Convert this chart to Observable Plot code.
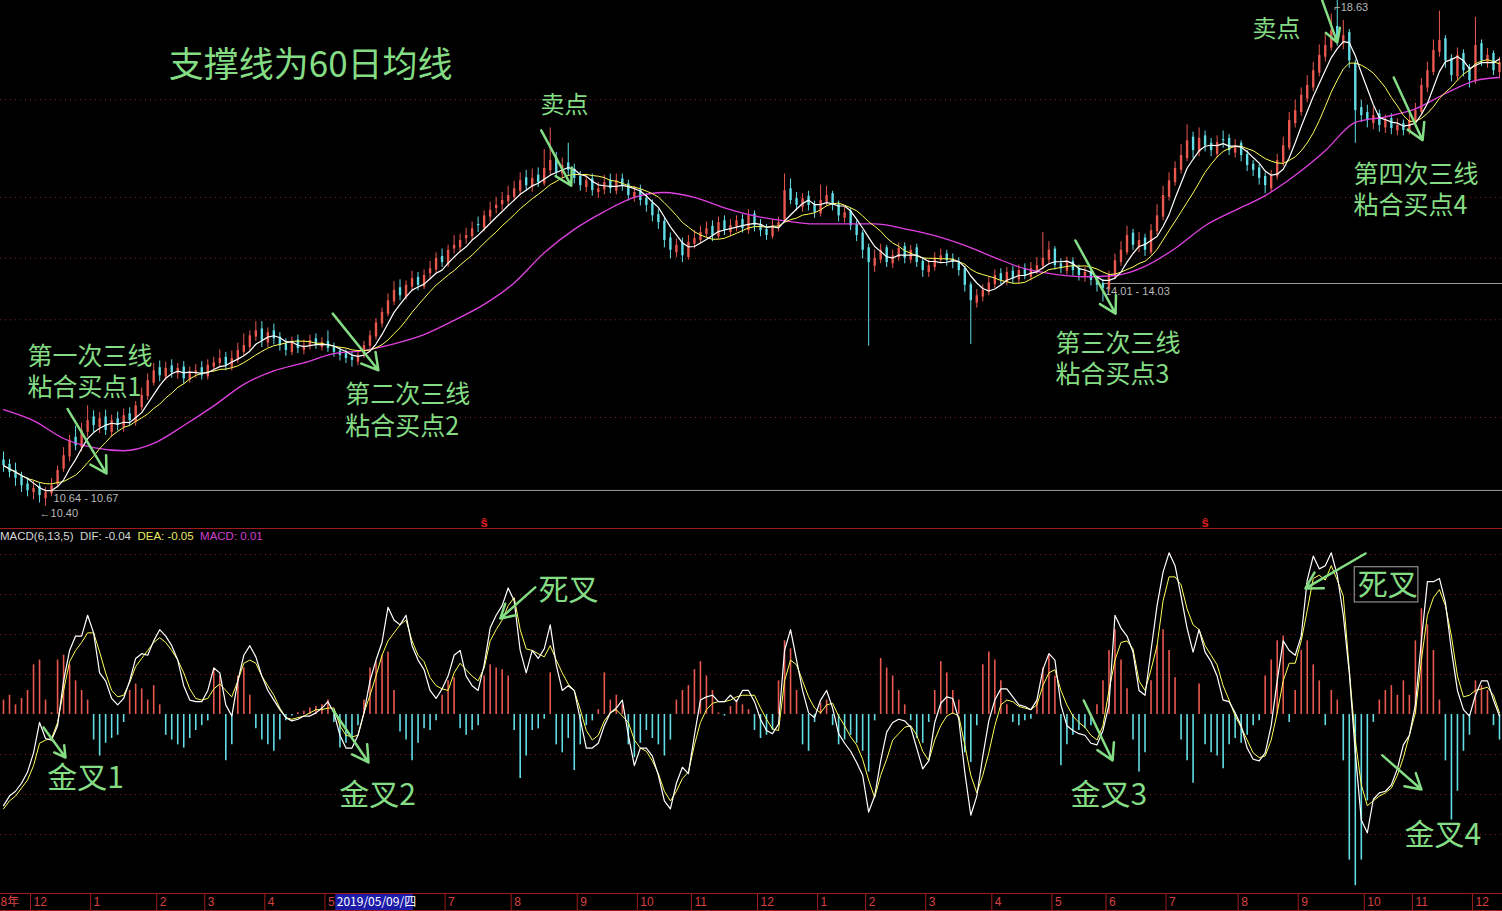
<!DOCTYPE html>
<html><head><meta charset="utf-8">
<script src="https://cdn.jsdelivr.net/npm/d3@7"></script>
<script src="https://cdn.jsdelivr.net/npm/@observablehq/plot@0.6"></script>
<style>
html,body{margin:0;padding:0;background:#000;overflow:hidden;}
#wrap{position:relative;width:1502px;height:911px;background:#000;overflow:hidden;}
#top{position:absolute;left:0;top:0;}
#mid{position:absolute;left:0;top:528px;border-top:1px solid #a31c1c;width:1502px;}
#axis{position:absolute;left:0;top:893px;border-top:1px solid #a31c1c;border-bottom:1px solid #a31c1c;width:1502px;}
#lbl{position:absolute;left:0px;top:530px;font:11.5px "Liberation Sans",Arial,sans-serif;white-space:pre;}
svg{display:block}
</style></head><body>
<div id="wrap">
<div id="top"></div>
<div id="mid"></div>
<div id="axis"></div>
<div id="lbl"><span style="color:#d8d8d8">MACD(6,13,5)  DIF: -0.04  </span><span style="color:#e8e860">DEA: -0.05  </span><span style="color:#d040d0">MACD: 0.01</span></div>
</div>
<script>
// ---------- candles (daily, left to right) ----------
const open = [
11.15,11.08,10.98,10.88,10.76,10.62,10.72,10.52,10.60,10.75,
11.00,11.20,11.52,11.35,11.60,11.85,11.68,11.85,11.60,11.82,
11.68,11.90,11.76,12.00,12.18,12.40,12.65,12.50,12.68,12.55,
12.66,12.45,12.55,12.65,12.50,12.66,12.72,12.82,12.66,12.78,
12.90,12.98,13.15,13.28,13.05,13.25,13.15,13.04,12.90,13.10,
12.93,13.00,13.12,12.98,13.08,12.98,12.92,12.88,12.82,12.74,
12.86,13.00,13.15,13.36,13.52,13.72,13.95,13.80,13.96,14.12,
13.96,14.18,14.24,14.46,14.32,14.58,14.60,14.75,14.78,14.98,
14.92,15.10,15.24,15.30,15.35,15.42,15.52,15.74,15.58,15.78,
15.64,15.85,16.06,15.80,15.98,15.88,15.76,15.58,15.72,15.50,
15.54,15.70,15.52,15.72,15.64,15.42,15.54,15.40,15.32,15.14,
15.03,14.76,14.52,14.68,14.44,14.66,14.72,14.82,14.95,14.78,
15.04,14.85,14.94,15.06,14.88,15.15,14.98,14.90,14.78,14.94,
15.05,15.56,15.40,15.26,15.44,15.30,15.15,15.34,15.48,15.30,
15.08,15.20,14.98,14.84,14.60,14.30,14.40,14.60,14.34,14.44,
14.62,14.40,14.60,14.38,14.20,14.28,14.40,14.50,14.42,14.38,
14.26,14.00,13.70,13.80,13.88,14.00,14.18,14.04,14.22,14.08,
14.26,14.12,14.22,14.30,14.40,14.58,14.34,14.22,14.38,14.26,
14.12,14.22,14.10,14.02,13.92,14.12,14.36,14.52,14.84,14.60,
14.76,14.52,14.86,15.10,15.42,15.66,15.86,16.05,16.40,16.15,
16.42,16.30,16.12,16.36,16.38,16.14,16.30,16.12,15.96,15.90,
15.76,15.56,15.75,15.98,16.22,16.62,16.80,17.02,17.20,17.44,
17.70,17.85,18.20,17.92,18.10,17.60,16.88,16.80,16.62,16.78,
16.55,16.70,16.50,16.62,16.48,16.64,16.80,17.20,17.45,17.78,
18.00,17.68,17.38,17.76,17.52,17.30,17.92,17.60,17.76,17.45];
const close = [
11.06,10.95,10.85,10.73,10.65,10.69,10.57,10.62,10.73,10.98,
11.22,11.47,11.38,11.63,11.79,11.71,11.82,11.63,11.79,11.71,
11.87,11.79,12.03,12.20,12.44,12.60,12.52,12.64,12.57,12.64,
12.47,12.57,12.60,12.52,12.69,12.73,12.80,12.69,12.80,12.93,
13.01,13.17,13.25,13.09,13.22,13.12,13.01,12.93,13.06,12.96,
13.01,13.09,13.01,13.06,12.96,12.90,12.85,12.80,12.77,12.85,
13.01,13.17,13.38,13.55,13.74,13.91,13.82,13.99,14.10,13.99,
14.15,14.26,14.43,14.36,14.56,14.64,14.72,14.80,14.91,14.96,
15.12,15.21,15.29,15.37,15.45,15.56,15.69,15.61,15.73,15.66,
15.89,16.02,15.82,15.94,15.86,15.73,15.61,15.69,15.53,15.56,
15.66,15.56,15.69,15.61,15.45,15.50,15.37,15.29,15.12,15.01,
14.72,14.56,14.64,14.47,14.69,14.75,14.85,14.91,14.80,15.01,
14.88,14.96,15.04,14.91,15.12,14.96,14.88,14.80,14.96,15.01,
15.53,15.37,15.29,15.40,15.29,15.17,15.37,15.45,15.29,15.12,
15.17,14.96,14.80,14.56,14.36,14.43,14.56,14.36,14.47,14.59,
14.43,14.56,14.36,14.23,14.31,14.43,14.47,14.39,14.36,14.23,
13.99,13.74,13.82,13.91,14.03,14.15,14.07,14.20,14.10,14.23,
14.15,14.26,14.31,14.43,14.56,14.31,14.26,14.36,14.23,14.15,
14.20,14.07,13.99,13.94,14.15,14.39,14.56,14.80,14.64,14.72,
14.56,14.88,15.12,15.45,15.69,15.89,16.10,16.34,16.18,16.38,
16.26,16.18,16.31,16.34,16.18,16.26,16.10,15.94,15.86,15.73,
15.61,15.77,16.02,16.26,16.67,16.83,17.08,17.24,17.48,17.73,
17.89,18.13,17.97,18.05,17.64,16.83,16.75,16.67,16.75,16.59,
16.67,16.54,16.59,16.51,16.67,16.83,17.24,17.48,17.81,17.97,
17.64,17.40,17.73,17.48,17.32,17.89,17.64,17.73,17.48,17.61];
const high = [
11.28,11.16,11.10,10.95,10.86,10.80,10.78,10.70,10.85,11.05,
11.35,11.55,11.70,11.75,12.03,11.95,11.92,11.96,11.88,11.93,
11.98,12.00,12.10,12.32,12.55,12.72,12.76,12.74,12.78,12.72,
12.75,12.66,12.70,12.75,12.78,12.82,12.94,12.90,12.92,13.05,
13.20,13.25,13.40,13.40,13.30,13.36,13.22,13.12,13.15,13.18,
13.10,13.18,13.20,13.14,13.25,13.05,12.98,12.94,12.90,12.92,
13.08,13.25,13.45,13.62,13.85,14.05,14.08,14.06,14.22,14.20,
14.24,14.38,14.52,14.58,14.64,14.80,14.82,14.92,15.02,15.10,
15.20,15.34,15.42,15.50,15.60,15.68,15.82,15.86,15.88,15.90,
16.20,16.55,16.15,16.06,16.30,15.96,15.84,15.78,15.80,15.66,
15.78,15.80,15.80,15.80,15.70,15.60,15.62,15.48,15.38,15.22,
15.08,14.84,14.74,14.76,14.80,14.88,14.95,15.02,15.04,15.10,
15.12,15.06,15.12,15.14,15.22,15.20,15.06,14.98,15.05,15.10,
15.80,15.72,15.50,15.48,15.52,15.36,15.62,15.60,15.52,15.36,
15.26,15.24,15.04,14.88,14.66,14.56,14.66,14.64,14.56,14.68,
14.68,14.64,14.66,14.44,14.40,14.52,14.58,14.56,14.50,14.44,
14.30,14.04,13.92,14.00,14.12,14.24,14.26,14.28,14.30,14.32,
14.34,14.36,14.44,14.85,14.70,14.62,14.42,14.45,14.44,14.32,
14.28,14.26,14.14,14.08,14.22,14.50,14.70,14.95,14.90,14.85,
14.82,14.98,15.30,15.60,15.82,16.00,16.28,16.60,16.48,16.55,
16.50,16.38,16.42,16.50,16.44,16.36,16.34,16.18,16.02,15.95,
15.82,15.86,16.12,16.40,16.80,17.00,17.20,17.40,17.62,17.90,
18.10,18.40,18.63,18.30,18.15,17.65,17.00,16.92,16.88,16.84,
16.76,16.78,16.70,16.68,16.78,16.95,17.35,17.62,17.98,18.45,
18.05,17.74,17.85,17.82,17.58,18.35,17.98,17.84,17.80,17.70];
const low = [
10.95,10.86,10.72,10.62,10.55,10.50,10.45,10.40,10.55,10.70,
10.95,11.12,11.30,11.28,11.52,11.60,11.58,11.55,11.52,11.62,
11.60,11.70,11.70,11.95,12.12,12.35,12.42,12.44,12.48,12.46,
12.38,12.40,12.48,12.45,12.45,12.58,12.66,12.60,12.60,12.72,
12.84,12.92,13.08,12.98,12.98,13.02,12.92,12.84,12.85,12.88,
12.86,12.94,12.95,12.92,12.90,12.82,12.76,12.72,12.66,12.68,
12.80,12.95,13.10,13.30,13.48,13.66,13.74,13.75,13.90,13.90,
13.92,14.10,14.18,14.28,14.28,14.50,14.52,14.66,14.72,14.85,
14.86,15.02,15.15,15.20,15.28,15.36,15.45,15.52,15.50,15.58,
15.60,15.78,15.74,15.72,15.76,15.64,15.52,15.50,15.44,15.40,
15.46,15.48,15.46,15.52,15.36,15.34,15.28,15.18,15.02,14.90,
14.60,14.42,14.44,14.36,14.40,14.58,14.66,14.76,14.70,14.74,
14.80,14.78,14.86,14.84,14.82,14.86,14.78,14.72,14.74,14.86,
15.00,15.30,15.20,15.18,15.20,15.08,15.10,15.28,15.20,15.02,
15.00,14.88,14.70,14.42,13.00,14.20,14.34,14.28,14.26,14.38,
14.34,14.34,14.28,14.12,14.12,14.22,14.34,14.30,14.26,14.14,
13.88,13.03,13.62,13.72,13.82,13.94,14.00,13.98,14.02,14.02,
14.08,14.06,14.16,14.24,14.34,14.24,14.18,14.16,14.14,14.06,
14.04,13.98,13.88,13.72,13.88,14.08,14.30,14.48,14.56,14.52,
14.46,14.48,14.80,15.04,15.36,15.60,15.80,16.00,16.05,16.08,
16.16,16.08,16.06,16.22,16.10,16.06,16.00,15.84,15.76,15.62,
15.48,15.50,15.70,15.92,16.18,16.55,16.74,16.96,17.14,17.38,
17.62,17.80,17.88,17.82,17.52,16.30,16.64,16.55,16.52,16.48,
16.46,16.44,16.42,16.42,16.44,16.58,16.75,17.12,17.40,17.70,
17.52,17.30,17.32,17.38,17.20,17.26,17.55,17.52,17.40,17.36];

// 60-day moving average, read at every 5th candle
const ma60At = [0,5,10,15,20,25,30,35,40,45,50,55,60,65,70,75,80,85,90,95,100,105,110,115,120,125,130,135,140,145,150,155,160,165,170,175,180,185,190,195,200,205,210,215,220,225,230,235,240,245,249];
const ma60 = [11.97,11.79,11.50,11.35,11.30,11.42,11.71,12.03,12.38,12.60,12.73,12.88,12.93,13.04,13.19,13.42,13.68,14.03,14.52,14.90,15.19,15.42,15.50,15.42,15.25,15.12,15.04,14.99,14.99,14.99,14.91,14.80,14.64,14.44,14.26,14.17,14.13,14.15,14.30,14.59,14.96,15.21,15.45,15.78,16.18,16.64,16.73,16.86,17.11,17.32,17.37];

// ---------- MACD(6,13,5) ----------
const dif = [
-0.57,-0.51,-0.48,-0.43,-0.36,-0.24,-0.05,-0.15,-0.16,-0.07,
0.21,0.40,0.49,0.49,0.62,0.51,0.26,0.21,0.10,0.06,
0.10,0.21,0.35,0.38,0.37,0.46,0.53,0.49,0.43,0.34,
0.18,0.09,0.08,0.08,0.15,0.29,0.26,0.06,-0.01,0.21,
0.37,0.43,0.36,0.24,0.15,0.09,0.03,-0.02,-0.04,-0.03,
-0.01,-0.01,0.01,0.04,0.08,0.01,-0.13,-0.21,-0.21,-0.13,
0.01,0.21,0.34,0.45,0.67,0.59,0.56,0.62,0.43,0.34,
0.28,0.15,0.10,0.16,0.24,0.37,0.40,0.24,0.18,0.15,
0.31,0.54,0.62,0.68,0.79,0.71,0.40,0.26,0.40,0.35,
0.41,0.56,0.31,0.15,0.18,0.15,-0.03,-0.21,-0.21,-0.18,
-0.07,0.01,0.04,0.09,-0.13,-0.32,-0.21,-0.21,-0.26,-0.38,
-0.54,-0.59,-0.43,-0.33,-0.37,-0.13,0.09,0.11,0.12,0.08,
0.08,0.12,0.08,0.15,0.15,0.08,-0.03,-0.10,-0.12,-0.06,
0.40,0.53,0.34,0.15,0.01,-0.02,0.09,0.15,0.04,-0.12,
-0.18,-0.23,-0.30,-0.38,-0.61,-0.51,-0.29,-0.11,-0.05,-0.03,
-0.04,-0.08,-0.21,-0.34,-0.29,-0.05,0.07,0.11,0.10,-0.03,
-0.36,-0.63,-0.51,-0.26,-0.04,0.09,0.16,0.16,0.11,0.06,
0.05,0.03,0.09,0.28,0.38,0.34,0.06,-0.07,-0.10,-0.12,
-0.13,-0.18,-0.19,-0.10,0.06,0.62,0.54,0.49,0.39,0.15,
0.12,0.40,0.68,0.89,1.01,0.93,0.74,0.54,0.39,0.53,
0.39,0.33,0.24,0.09,0.08,0.01,-0.07,-0.21,-0.28,-0.29,
-0.24,-0.07,0.21,0.46,0.40,0.37,0.49,0.84,0.99,0.91,
0.93,1.01,0.87,0.62,0.26,-0.24,-0.66,-0.74,-0.53,-0.49,
-0.48,-0.44,-0.34,-0.19,-0.13,0.06,0.46,0.83,0.83,0.85,
0.70,0.40,0.15,0.03,-0.01,0.12,0.21,0.21,0.09,-0.01];
const dea = [
-0.59,-0.54,-0.51,-0.46,-0.41,-0.32,-0.18,-0.16,-0.15,-0.05,
0.15,0.33,0.40,0.45,0.51,0.51,0.39,0.26,0.15,0.11,
0.12,0.20,0.30,0.35,0.40,0.45,0.48,0.45,0.40,0.34,
0.26,0.16,0.10,0.09,0.10,0.16,0.19,0.15,0.11,0.21,
0.32,0.34,0.32,0.24,0.18,0.12,0.04,-0.02,-0.03,-0.02,
-0.01,0.01,0.03,0.03,0.04,0.04,-0.07,-0.13,-0.14,-0.13,
0.01,0.12,0.24,0.37,0.46,0.51,0.56,0.59,0.46,0.37,
0.33,0.23,0.18,0.16,0.15,0.26,0.32,0.28,0.24,0.21,
0.29,0.46,0.53,0.59,0.68,0.73,0.53,0.41,0.40,0.38,
0.36,0.43,0.34,0.26,0.19,0.15,0.03,-0.10,-0.16,-0.13,
-0.04,0.01,0.03,-0.01,-0.05,-0.16,-0.21,-0.23,-0.29,-0.37,
-0.48,-0.54,-0.48,-0.40,-0.36,-0.19,-0.05,0.03,0.07,0.08,
0.08,0.09,0.11,0.12,0.12,0.12,0.04,-0.03,-0.09,-0.10,
0.21,0.34,0.31,0.21,0.11,0.04,0.01,0.06,0.07,-0.01,
-0.07,-0.14,-0.19,-0.28,-0.41,-0.52,-0.38,-0.28,-0.16,-0.12,
-0.08,-0.07,-0.13,-0.23,-0.29,-0.16,-0.07,-0.01,0.01,-0.01,
-0.19,-0.38,-0.49,-0.38,-0.24,-0.07,0.06,0.09,0.08,0.05,
0.04,0.03,0.06,0.18,0.26,0.28,0.15,0.06,-0.01,-0.05,
-0.08,-0.13,-0.16,-0.07,0.15,0.34,0.45,0.46,0.41,0.21,
0.15,0.28,0.43,0.71,0.86,0.86,0.81,0.66,0.56,0.53,
0.43,0.37,0.31,0.18,0.09,-0.01,-0.08,-0.16,-0.24,-0.27,
-0.26,-0.16,0.01,0.21,0.32,0.32,0.46,0.65,0.85,0.87,
0.84,0.93,0.84,0.74,0.28,-0.16,-0.44,-0.57,-0.54,-0.51,
-0.49,-0.46,-0.38,-0.27,-0.13,0.01,0.34,0.62,0.73,0.78,
0.68,0.49,0.24,0.11,0.12,0.15,0.16,0.17,0.12,0.01];
const macd = [
0.09,0.12,0.06,0.10,0.15,0.31,0.34,0.09,0.01,0.34,
0.37,0.31,0.21,0.15,0.09,-0.16,-0.26,-0.18,-0.15,-0.13,
-0.05,0.15,0.19,0.16,0.09,0.18,0.06,-0.13,-0.16,-0.19,
-0.21,-0.15,-0.10,-0.07,-0.04,0.29,0.24,-0.29,-0.19,0.24,
0.29,0.12,-0.09,-0.16,-0.19,-0.23,-0.16,-0.04,-0.01,0.01,
0.02,0.04,0.05,0.06,0.09,-0.05,-0.21,-0.18,-0.15,-0.07,
0.09,0.29,0.33,0.37,0.39,0.15,-0.11,-0.16,-0.29,-0.18,
-0.09,-0.10,-0.04,0.12,0.21,0.23,-0.09,-0.13,-0.10,-0.07,
0.24,0.31,0.29,0.28,0.24,-0.10,-0.40,-0.26,-0.10,-0.09,
-0.03,0.26,-0.19,-0.24,-0.15,-0.35,-0.19,-0.07,-0.04,0.03,
0.26,0.09,0.12,0.06,-0.19,-0.27,-0.18,-0.10,-0.15,-0.19,
-0.26,-0.16,0.09,0.15,0.18,0.28,0.33,0.24,0.15,0.01,
-0.01,0.05,0.09,0.06,0.03,-0.10,-0.15,-0.13,-0.10,0.21,
0.46,0.41,0.15,-0.19,-0.23,-0.05,0.07,0.09,-0.07,-0.19,
-0.16,-0.13,-0.18,-0.23,-0.36,-0.04,0.35,0.29,0.24,0.15,
0.06,-0.04,-0.15,-0.18,-0.05,0.15,0.33,0.26,0.15,0.09,
-0.24,-0.30,-0.07,0.31,0.39,0.34,0.21,0.06,-0.05,-0.07,
-0.04,-0.03,0.09,0.29,0.37,0.24,-0.32,-0.19,-0.13,-0.10,
-0.09,-0.07,0.06,0.21,0.40,0.53,0.34,0.16,-0.16,-0.36,
-0.24,0.21,0.43,0.53,0.40,0.23,-0.16,-0.29,-0.43,0.19,
-0.19,-0.24,-0.26,-0.34,-0.19,-0.15,-0.18,-0.13,-0.07,-0.04,
0.24,0.34,0.46,0.49,-0.05,0.15,0.40,0.46,0.31,0.21,
-0.07,0.15,0.09,-0.29,-0.91,-1.07,-0.91,-0.54,-0.05,0.09,
0.15,0.18,0.12,0.21,0.12,0.46,0.66,0.56,0.40,0.09,
-0.29,-0.66,-0.48,-0.23,-0.13,0.21,0.18,0.15,-0.07,-0.16];

// ---------- axis & reference levels ----------
const priceGrid = [17.01, 15.42, 14.43, 13.43, 11.84];
const macdGrid = [1.0, 0.75, 0.5, 0.25, -0.25, -0.5, -0.75];
const yearLabel = "8年";
const monthStart = [5,15,26,34,44,54,74,85,96,106,115,126,136,144,154,165,175,184,194,206,216,227,235,245];
const monthLabel = ["12","1","2","3","4","5","7","8","9","10","11","12","1","2","3","4","5","6","7","8","9","10","11","12"];
const cursor = {from: 55.3, to: 68.2, label: "2019/05/09/四"};
const rangeLines = [{from: 8, p: 10.655, label: "10.64 - 10.67"}, {from: 183, p: 14.02, label: "14.01 - 14.03"}];
const lowMark = {i: 7, p: 10.40, label: "←10.40"};
const highMark = {i: 222, p: 18.63, label: "⌐18.63"};
const signalIdx = [80, 200];

// ---------- annotations ----------
const topNotes = [
  {i: 27.5, p: 17.61, t: "支撑线为60日均线", s: 35},
  {i: 89.4, p: 16.95, t: "卖点", s: 24},
  {i: 207.9, p: 18.18, t: "卖点", s: 24},
  {i: 4.0, p: 12.61, t: "第一次三线\n粘合买点1", s: 25},
  {i: 56.9, p: 11.98, t: "第二次三线\n粘合买点2", s: 25},
  {i: 175.1, p: 12.82, t: "第三次三线\n粘合买点3", s: 25},
  {i: 224.7, p: 15.57, t: "第四次三线\n粘合买点4", s: 25}
];
const topArrows = [
  {i1: 89.5, p1: 16.51, i2: 94.5, p2: 15.61},
  {i1: 219.5, p1: 18.62, i2: 222.0, p2: 17.94},
  {i1: 10.65, p1: 11.98, i2: 17.14, p2: 10.93},
  {i1: 54.8, p1: 13.53, i2: 62.4, p2: 12.61},
  {i1: 178.4, p1: 14.72, i2: 185.1, p2: 13.53},
  {i1: 231.4, p1: 17.37, i2: 236.2, p2: 16.35}
];
const macdNotes = [
  {i: 89.05, v: 0.775, t: "死叉"},
  {i: 225.4, v: 0.806, t: "死叉"},
  {i: 7.3, v: -0.40, t: "金叉1"},
  {i: 55.9, v: -0.506, t: "金叉2"},
  {i: 177.6, v: -0.506, t: "金叉3"},
  {i: 233.2, v: -0.756, t: "金叉4"}
];
const noteBox = [{x1: 224.9, x2: 235.5, y1: 0.70, y2: 0.92}];
const macdArrows = [
  {i1: 88.5, v1: 0.794, i2: 82.7, v2: 0.60},
  {i1: 226.7, v1: 1.006, i2: 216.7, v2: 0.788},
  {i1: 6.66, v1: -0.081, i2: 10.32, v2: -0.269},
  {i1: 54.9, v1: 0.025, i2: 60.75, v2: -0.30},
  {i1: 179.8, v1: 0.0875, i2: 184.6, v2: -0.2875},
  {i1: 229.5, v1: -0.256, i2: 236.0, v2: -0.469}
];

// ---------- styling ----------
const W = 1502, N = close.length;
const UP = "#e8584f", DOWN = "#62dde6", YEL = "#ffff5a", MAG = "#e040e0";
const GRID = "#8a2020", GREEN = "#84dc84", AXR = "#a31c1c", AXT = "#d84040";
const CJK = "Noto Sans CJK SC, sans-serif", NUMF = "Liberation Sans, Arial, sans-serif";

const rows = close.map((c, i) => ({i, open: open[i], close: c, high: high[i], low: low[i], dif: dif[i], dea: dea[i], macd: macd[i]}));
const ma60Rows = ma60At.map((i, k) => ({i, v: ma60[k]}));
const months = monthStart.map((i, k) => ({i, label: monthLabel[k]}));
const col = d => d.close >= d.open ? UP : DOWN;
const xs = {domain: [-0.5, N - 0.5], axis: null};

const topPlot = Plot.plot({
  width: W, height: 528, margin: 0,
  style: {background: "transparent", overflow: "visible"},
  x: xs,
  y: {domain: [10.036, 18.622], axis: null},
  marks: [
    Plot.ruleY(priceGrid, {stroke: GRID, strokeDasharray: "1,4"}),
    Plot.ruleY(rangeLines, {y: "p", x1: "from", x2: N - 0.5, stroke: "#9a9a9a"}),
    Plot.ruleX(rows, {x: "i", y1: "low", y2: "high", stroke: col, strokeWidth: 1}),
    Plot.ruleX(rows, {x: "i", y1: "open", y2: "close", stroke: col, strokeWidth: 2.4}),
    Plot.line(ma60Rows, {x: "i", y: "v", stroke: MAG, strokeWidth: 1.3, curve: "monotone-x"}),
    Plot.lineY(rows, Plot.windowY({k: 10, anchor: "end"}, {x: "i", y: "close", stroke: YEL, strokeWidth: 1})),
    Plot.lineY(rows, Plot.windowY({k: 5, anchor: "end"}, {x: "i", y: "close", stroke: "#ffffff", strokeWidth: 1.2})),
    Plot.text(rangeLines, {x: "from", y: "p", text: "label", dx: 2, dy: 8, textAnchor: "start", fill: "#b8b8b8", fontSize: 11, fontFamily: NUMF}),
    Plot.text([lowMark], {x: "i", y: "p", text: "label", dx: -6, dy: 7, textAnchor: "start", fill: "#b8b8b8", fontSize: 11, fontFamily: NUMF}),
    Plot.text([highMark], {x: "i", y: "p", text: "label", dx: -3, dy: 7, textAnchor: "start", fill: "#b8b8b8", fontSize: 11, fontFamily: NUMF}),
    Plot.text(signalIdx, {x: d => d, y: 10.13, text: () => "ŝ", fill: "#e02020", fontSize: 13, fontWeight: "bold", fontFamily: NUMF}),
    Plot.arrow(topArrows, {x1: "i1", y1: "p1", x2: "i2", y2: "p2", stroke: GREEN, strokeWidth: 2.5, headLength: 11}),
    Plot.text(topNotes, {x: "i", y: "p", text: "t", fontSize: d => d.s, textAnchor: "start", lineAnchor: "middle", lineHeight: 1.26, fill: GREEN, fontFamily: CJK})
  ]
});
document.getElementById("top").appendChild(topPlot);

const midPlot = Plot.plot({
  width: W, height: 364, margin: 0,
  style: {background: "transparent", overflow: "visible"},
  x: xs,
  y: {domain: [-1.119, 1.156], axis: null},
  marks: [
    Plot.ruleY(macdGrid, {stroke: GRID, strokeDasharray: "1,4"}),
    Plot.ruleX(rows, {x: "i", y1: 0, y2: "macd", stroke: d => d.macd >= 0 ? UP : DOWN, strokeWidth: 1.6}),
    Plot.line(rows, {x: "i", y: "dea", stroke: YEL, strokeWidth: 1}),
    Plot.line(rows, {x: "i", y: "dif", stroke: "#ffffff", strokeWidth: 1.2}),
    Plot.rect(noteBox, {x1: "x1", x2: "x2", y1: "y1", y2: "y2", stroke: "#a8a8a8", fill: "none"}),
    Plot.arrow(macdArrows, {x1: "i1", y1: "v1", x2: "i2", y2: "v2", stroke: GREEN, strokeWidth: 2.5, headLength: 11}),
    Plot.text(macdNotes, {x: "i", y: "v", text: "t", fontSize: 30, textAnchor: "start", lineAnchor: "middle", fill: GREEN, fontFamily: CJK})
  ]
});
document.getElementById("mid").appendChild(midPlot);

const axisPlot = Plot.plot({
  width: W, height: 16, margin: 0,
  style: {background: "transparent", overflow: "visible"},
  x: xs,
  y: {domain: [0, 1], axis: null},
  marks: [
    Plot.ruleX(months, {x: d => d.i - 0.5, stroke: AXR}),
    Plot.text(months, {x: d => d.i - 0.5, y: 0.5, text: "label", dx: 3, textAnchor: "start", fill: AXT, fontSize: 12, fontFamily: NUMF}),
    Plot.text([yearLabel], {x: -0.5, y: 0.5, text: d => d, textAnchor: "start", fill: AXT, fontSize: 12, fontFamily: CJK}),
    Plot.rect([cursor], {x1: "from", x2: "to", y1: 0, y2: 1, fill: "#1c1ca8"}),
    Plot.text([cursor], {x: "from", y: 0.5, text: "label", dx: 1, textAnchor: "start", fill: "#ffffff", fontSize: 12, fontFamily: CJK})
  ]
});
document.getElementById("axis").appendChild(axisPlot);
</script>
</body></html>
